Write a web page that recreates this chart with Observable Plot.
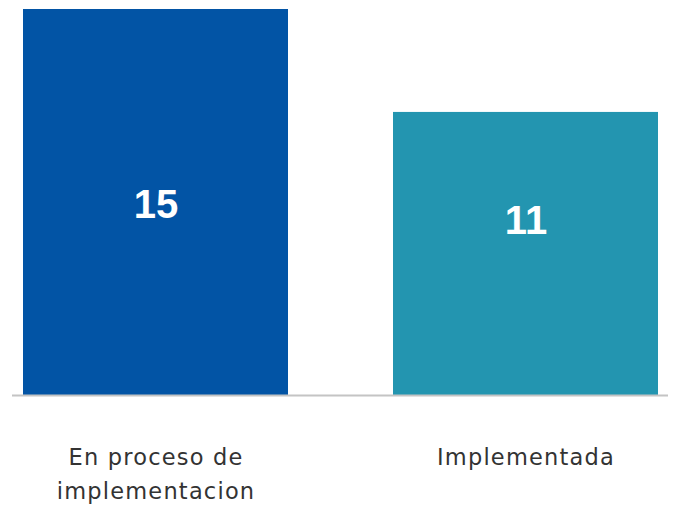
<!DOCTYPE html>
<html>
<head>
<meta charset="utf-8">
<script src="https://cdn.jsdelivr.net/npm/d3@7"></script>
<script src="https://cdn.jsdelivr.net/npm/@observablehq/plot@0.6"></script>
<style>
  html, body { margin: 0; padding: 0; background: #fff; }
  #chart svg { display: block; }
  #chart g[aria-label="x-axis tick label"] text { letter-spacing: 1.2px; }
</style>
</head>
<body>
<div id="chart"></div>
<script>
const categories = ["En proceso de implementacion", "Implementada"];
const values = [15, 11];
const tickLabels = ["En proceso de\nimplementacion", "Implementada"];
const colors = ["#0254a5", "#2395b0"];

const data = categories.map((c, i) => ({category: c, value: values[i], label: tickLabels[i]}));

const chart = Plot.plot({
  width: 674,
  height: 505,
  marginTop: 9,
  marginBottom: 110,
  marginLeft: 23,
  marginRight: 16,
  style: {fontFamily: "'DejaVu Sans', sans-serif", background: "#fff"},
  x: {domain: categories, paddingInner: 0.284, paddingOuter: 0, label: null},
  y: {domain: [0, 15], axis: null},
  color: {domain: categories, range: colors},
  marks: [
    Plot.barY(data, {x: "category", y: "value", fill: "category"}),
    Plot.ruleY([0], {stroke: "#c4c4c4", strokeWidth: 2, insetLeft: -11, insetRight: -10}),
    Plot.text(data.filter((d, i) => i === 0), {x: "category", y: d => d.value / 2, text: d => String(d.value), fill: "white", fontSize: 40, fontWeight: "bold", fontFamily: "'Liberation Sans', Arial, sans-serif", dy: 3}),
    Plot.text(data.filter((d, i) => i === 1), {x: "category", y: d => d.value / 2, text: d => String(d.value), fill: "white", fontSize: 40, fontWeight: "bold", fontFamily: "'Liberation Sans', Arial, sans-serif", dy: -33}),
    Plot.axisX({tickSize: 0, tickPadding: 0, tickFormat: c => tickLabels[categories.indexOf(c)], fontSize: 22.5, lineHeight: 1.5, fill: "#333", dy: 46, label: null})
  ]
});
document.getElementById("chart").appendChild(chart);
</script>
</body>
</html>
